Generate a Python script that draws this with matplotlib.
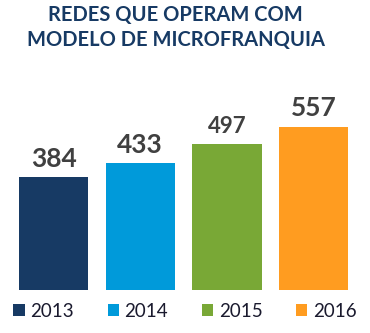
import matplotlib
matplotlib.use('Agg')
import matplotlib.pyplot as plt
from matplotlib.patches import Patch

# Data
years = ['2013', '2014', '2015', '2016']
values = [384, 433, 497, 557]
colors = ['#173a64', '#009ada', '#79a836', '#ff9c20']
label_sizes = [19, 19, 16, 19]

plt.rcParams['font.family'] = ['Lato', 'DejaVu Sans']

fig = plt.figure(figsize=(3.7, 3.33), dpi=100)
ax = fig.add_axes([0.0276, 0.129, 0.937, 0.529])

x = range(len(years))
ax.bar(x, values, width=0.8, color=colors)
for xi, v, fs in zip(x, values, label_sizes):
    ax.annotate(str(v), (xi, v), xytext=(0, 13), textcoords='offset points',
                ha='center', va='center', fontsize=fs, fontweight='bold', color='#404040')

ax.set_xlim(-0.5, 3.5)
ax.set_ylim(0, 600)
ax.axis('off')

fig.text(0.475, 0.985, 'REDES QUE OPERAM COM\nMODELO DE MICROFRANQUIA', ha='center', va='top',
         fontsize=14.5, fontweight='bold', color='#173a64', linespacing=1.3)

handles = [Patch(facecolor=c, edgecolor='none') for c in colors]
fig.legend(handles, years, loc='center', bbox_to_anchor=(0.5, 0.066), ncol=4, frameon=False,
           fontsize=13.5, handlelength=0.6, handleheight=0.6, handletextpad=0.3,
           columnspacing=1.8, labelcolor='#1a1a2e', borderpad=0)

fig.savefig('out.png', dpi=100)
